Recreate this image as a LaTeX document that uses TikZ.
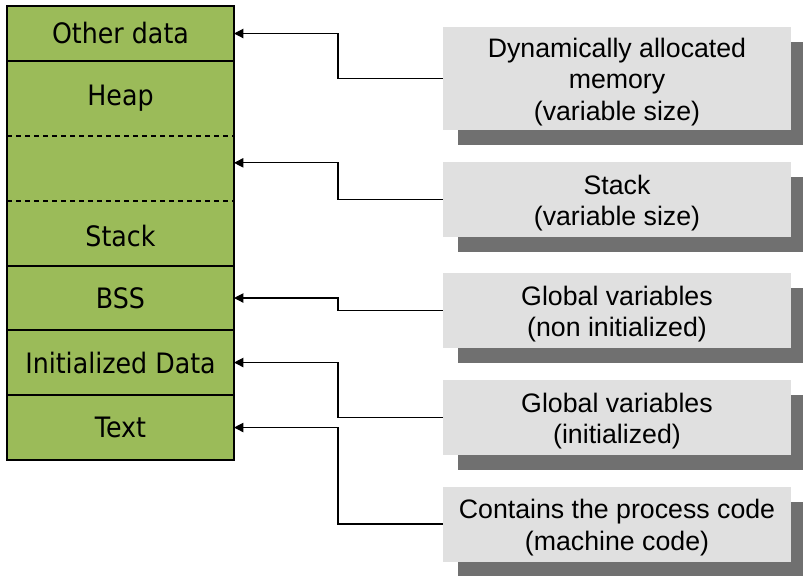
\documentclass[tikz,border=0pt]{standalone}
\usepackage{fontspec}
\setmainfont{Liberation Sans}
\newfontfamily\segfont{DejaVu Sans}[FakeStretch=0.9]
\usetikzlibrary{arrows.meta,positioning,shadows}
\definecolor{segment}{HTML}{9BBB59}
\definecolor{note}{HTML}{E0E0E0}
\definecolor{noteshadow}{HTML}{707070}
\newcommand\topstrut{\rule{0pt}{22.6pt}}

\begin{document}
\begin{tikzpicture}[x=0.03cm, y=-0.03cm,
  seg/.style={fill=segment, minimum width=6.81cm, inner sep=0pt, outer sep=0pt, font=\segfont\fontsize{24}{28}\selectfont},
  note/.style={fill=note, minimum width=10.44cm, minimum height=2.25cm, align=center, inner sep=0pt, outer sep=0pt,
    font=\fontsize{22.8}{26.5}\selectfont,
    drop shadow={shadow xshift=0.45cm, shadow yshift=-0.45cm, fill=noteshadow, opacity=1}},
  arr/.style={-{Triangle[length=0.28cm,width=0.28cm]}, line width=1pt}]
\useasboundingbox (0,0) rectangle (803,575);
% memory segments
\node[seg, minimum height=1.65cm, anchor=north west] (other) at (7,6) {Other data};
\node[seg, minimum height=2.25cm, below=0pt of other] (heap) {Heap};
\node[seg, minimum height=1.95cm, below=0pt of heap] (free) {};
\node[seg, minimum height=1.95cm, below=0pt of free] (stack) {\topstrut Stack};
\node[seg, minimum height=1.92cm, below=0pt of stack] (bss) {BSS};
\node[seg, minimum height=1.95cm, below=0pt of bss] (init) {Initialized Data};
\node[seg, minimum height=1.95cm, below=0pt of init] (text) {Text};
\draw[line width=1pt] (other.south west) -- (other.south east);
\draw[line width=1pt, dash pattern=on 0.15cm off 0.12cm] (heap.south west) -- (heap.south east);
\draw[line width=1pt, dash pattern=on 0.15cm off 0.12cm] (free.south west) -- (free.south east);
\draw[line width=1pt] (stack.south west) -- (stack.south east);
\draw[line width=1pt] (bss.south west) -- (bss.south east);
\draw[line width=1pt] (init.south west) -- (init.south east);
\draw[line width=1pt] (other.north west) rectangle (text.south east);
% descriptions
\node[note, minimum height=3.09cm] (dyn) at (617,78.5) {\topstrut Dynamically allocated\\memory\\(variable size)};
\node[note] (stk) at (617,199.5) {\topstrut Stack\\(variable size)};
\node[note] (gvu) at (617,310.5) {\topstrut Global variables\\(non initialized)};
\node[note] (gvi) at (617,417.5) {\topstrut Global variables\\(initialized)};
\node[note] (code) at (617,524) {\topstrut Contains the process code\\(machine code)};
% connectors
\coordinate (bend) at (338,0);
\draw[arr] (dyn.west) -- (dyn.west -| bend) |- (other.east);
\draw[arr] (stk.west) -- (stk.west -| bend) |- ([yshift=0.17cm]free.east);
\draw[arr] (gvu.west) -- (gvu.west -| bend) |- (bss.east);
\draw[arr] (gvi.west) -- (gvi.west -| bend) |- (init.east);
\draw[arr] (code.west) -- (code.west -| bend) |- (text.east);
\end{tikzpicture}
\end{document}
